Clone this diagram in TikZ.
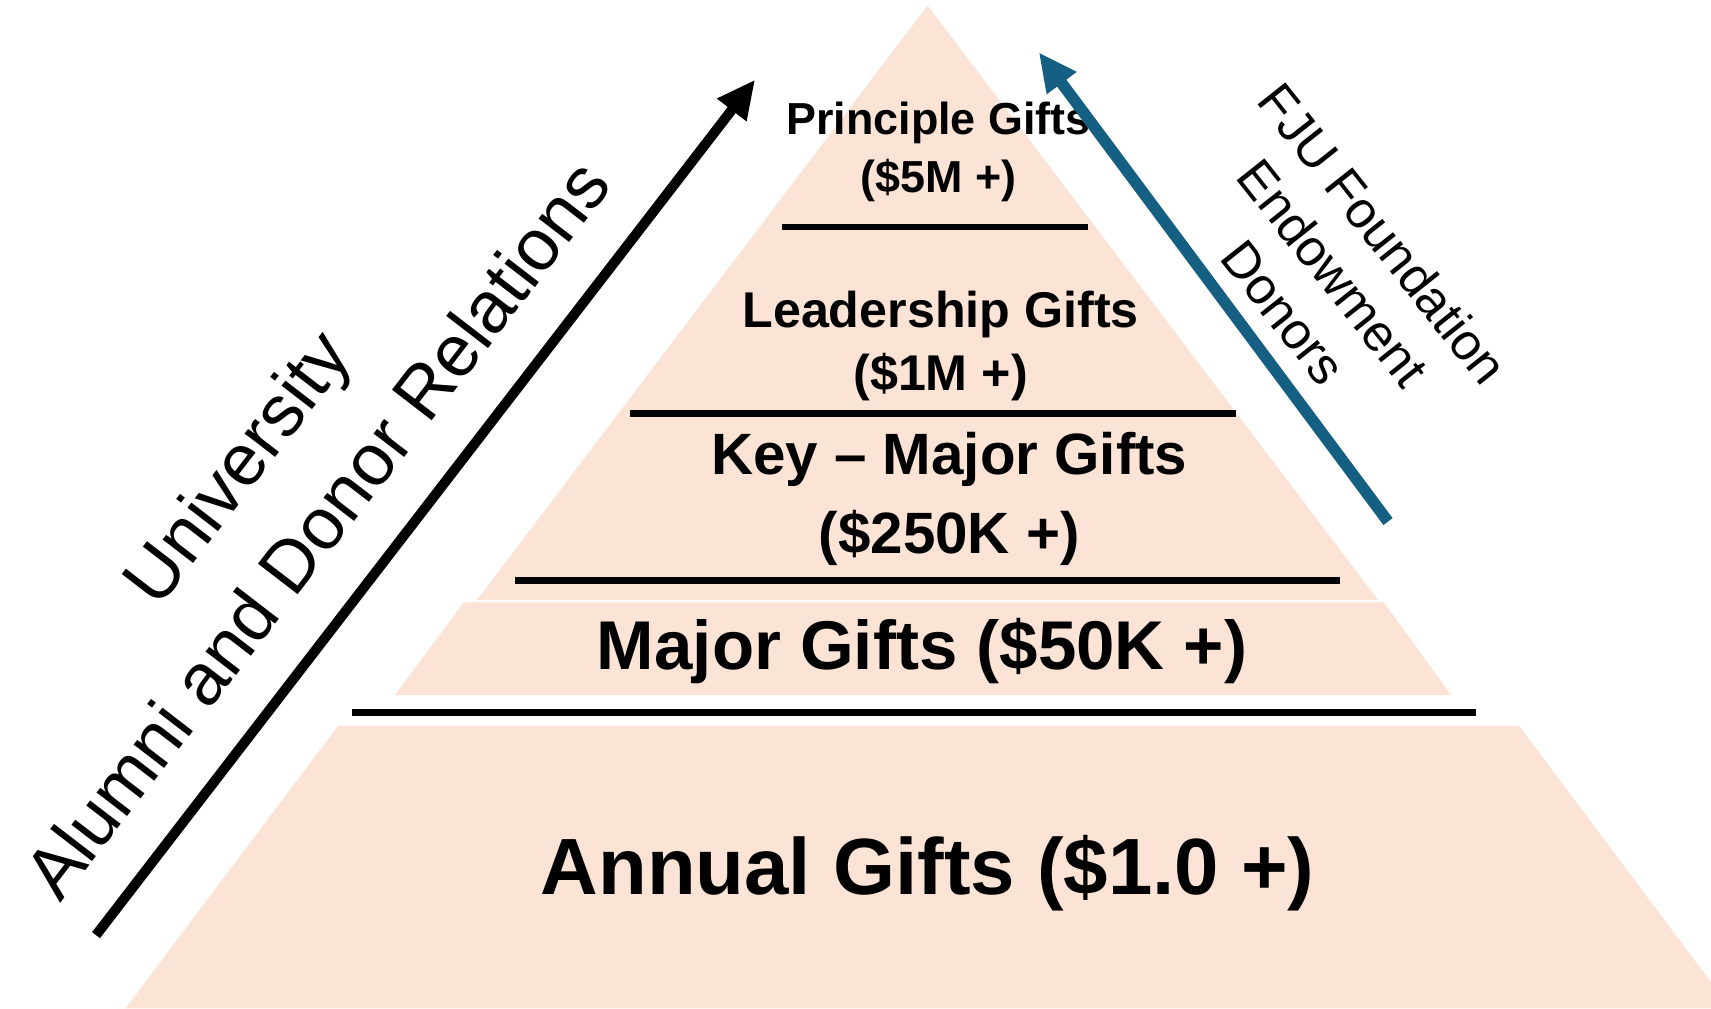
\documentclass[tikz,border=0pt]{standalone}
\usepackage{fontspec}
\setmainfont{Liberation Sans}
\usetikzlibrary{arrows.meta,positioning}
\definecolor{tierpeach}{RGB}{251,227,214}
\definecolor{fjublue}{RGB}{21,96,130}

\begin{document}
\begin{tikzpicture}[x=0.1mm,y=-0.1mm,
  tier/.style={fill=tierpeach,draw=none},
  divider/.style={line width=1.8pt},
  giftlabel/.style={align=center,inner sep=0pt},
  sidelabel/.style={align=center,inner sep=0pt},
  climb/.style={line width=2.6pt,-{Triangle[length=10pt,width=9pt]}}]
\useasboundingbox (0,0) rectangle (1568,924);
\fill[tier] (850,5) -- (1263,550) -- (437,550) -- cycle;
\fill[tier] (425,552) -- (1268,552) -- (1330,637) -- (362,637) -- cycle;
\fill[tier] (310,665) -- (1392,665) -- (1568,900) -- (1568,924) -- (115,924) -- cycle;
\draw[divider] (717,208) -- (997,208);
\draw[divider] (577,379) -- (1133,379);
\draw[divider] (472,532) -- (1228,532);
\draw[divider] (323,653) -- (1353,653);
\node[giftlabel,font=\fontsize{11.7}{15}\selectfont\bfseries] (principle) at (860,139) {Principle Gifts\\(\$5M +)};
\node[giftlabel,font=\fontsize{13.1}{16.5}\selectfont\bfseries] (leadership) at (862,317) {Leadership Gifts\\(\$1M +)};
\node[giftlabel,font=\fontsize{15.2}{20.5}\selectfont\bfseries] (keymajor) at (870,457) {Key -- Major Gifts\\(\$250K +)};
\node[giftlabel,font=\fontsize{18}{22}\selectfont\bfseries] (major) at (845,597) {Major Gifts (\$50K +)};
\node[giftlabel,font=\fontsize{20.8}{25}\selectfont\bfseries] (annual) at (850,800) {Annual Gifts (\$1.0 +)};
\node[sidelabel,rotate=52.4,font=\fontsize{19}{26.5}\selectfont] (alumni) at (253,456) {University\\Alumni and Donor Relations};
\node[sidelabel,rotate=-51.6,font=\fontsize{13.4}{16.5}\selectfont] (fju) at (1222,250) {FJU Foundation\\Endowment\\Donors};
\coordinate (alumniTail) at (88,857);
\coordinate (alumniTip) at (692,73);
\coordinate (fjuTail) at (1272,478);
\coordinate (fjuTip) at (952,48);
\draw[climb] (alumniTail) -- (alumniTip);
\draw[climb,fjublue,line width=3pt] (fjuTail) -- (fjuTip);
\end{tikzpicture}
\end{document}
